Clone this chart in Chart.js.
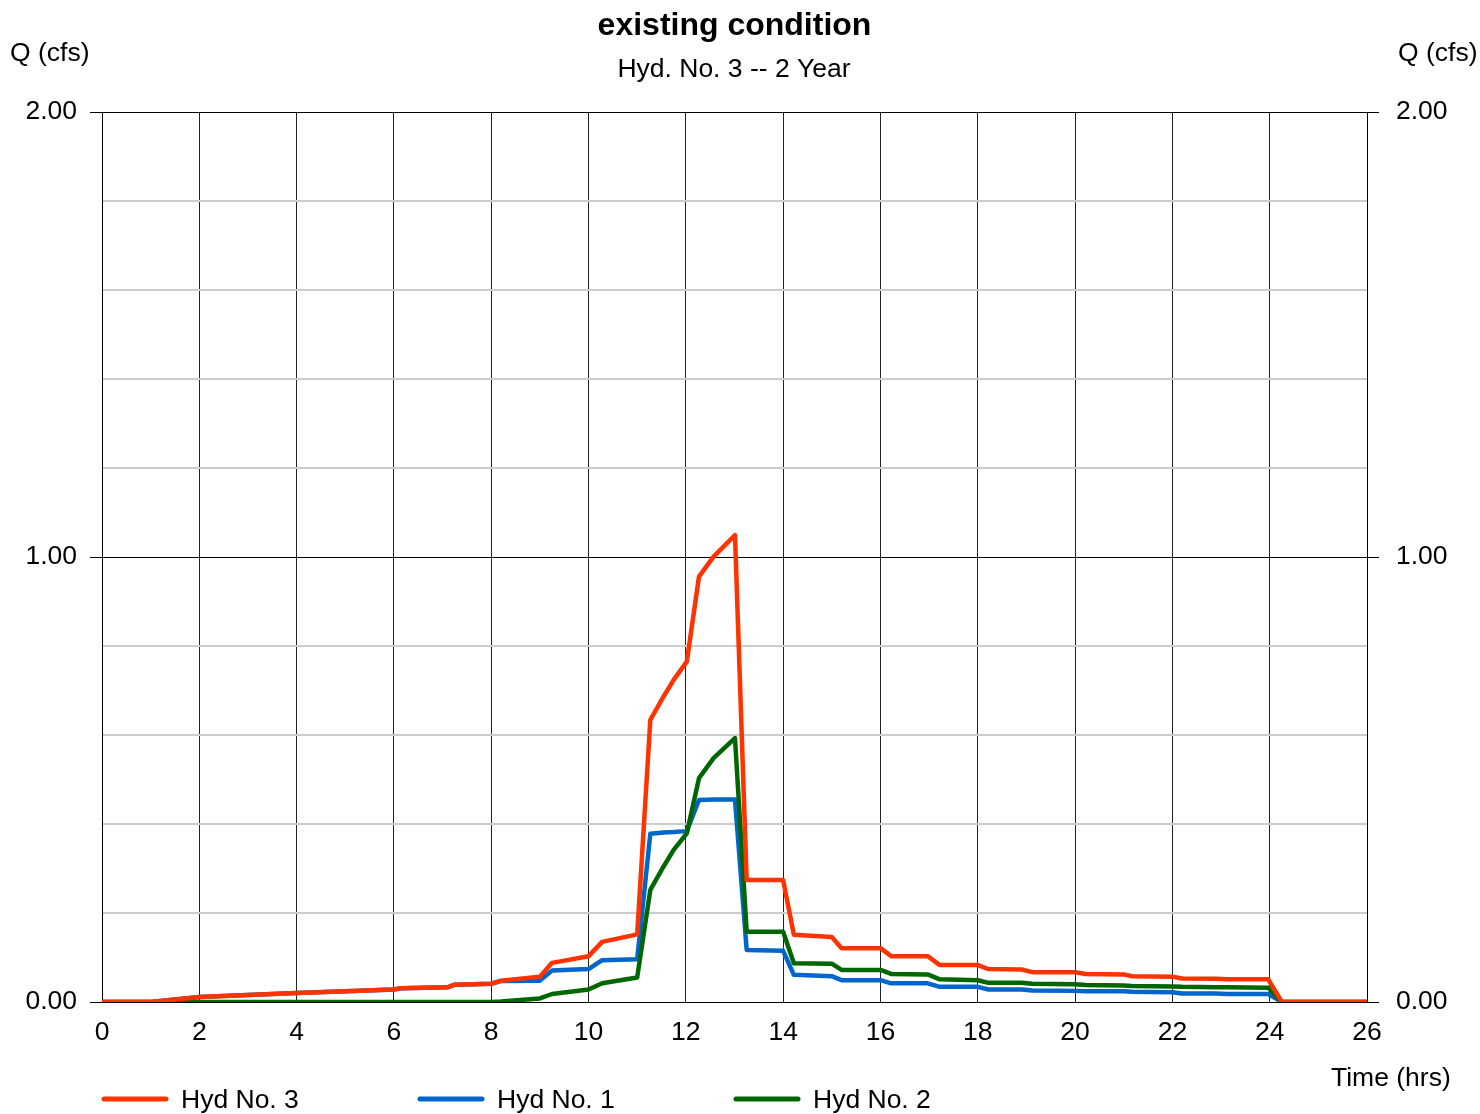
<!DOCTYPE html>
<html>
<head>
<meta charset="utf-8">
<script src="https://cdn.jsdelivr.net/npm/chart.js@4/dist/chart.umd.min.js"></script>
<style>
  html, body { margin: 0; padding: 0; background: #ffffff; }
  #wrap { width: 1480px; height: 1114px; }
</style>
</head>
<body>
<div id="wrap"><canvas id="c" width="1480" height="1114"></canvas></div>
<script>
// ---- data ----
const timeHrs = [0, 1.0, 2.0, 4.0, 6.0, 6.15, 7.1, 7.25, 8.0, 8.2, 9.0, 9.25, 10.0, 10.28, 11.0,
  11.27, 11.54, 11.75, 12.02, 12.27, 12.57, 13.01, 13.25, 14.0, 14.22, 15.0, 15.2, 16.0, 16.22,
  16.97, 17.22, 18.0, 18.22, 18.9, 19.12, 20.0, 20.22, 21.0, 21.17, 22.0, 22.2, 22.9, 23.13,
  23.97, 24.25, 26.0];
const hyd3 = [0, 0, 0.011, 0.020, 0.028, 0.031, 0.033, 0.039, 0.041, 0.048, 0.057, 0.088, 0.103, 0.135, 0.152,
  0.634, 0.686, 0.724, 0.765, 0.956, 1.001, 1.049, 0.274, 0.274, 0.151, 0.146, 0.121, 0.121, 0.103,
  0.103, 0.083, 0.083, 0.074, 0.073, 0.067, 0.067, 0.063, 0.062, 0.058, 0.057, 0.053, 0.052, 0.051,
  0.051, 0, 0];
const hyd1 = [0, 0, 0.011, 0.020, 0.028, 0.031, 0.033, 0.039, 0.041, 0.047, 0.048, 0.071, 0.074, 0.094, 0.096,
  0.378, 0.381, 0.382, 0.384, 0.454, 0.455, 0.455, 0.117, 0.115, 0.061, 0.058, 0.049, 0.049, 0.042,
  0.042, 0.034, 0.034, 0.028, 0.028, 0.026, 0.025, 0.024, 0.024, 0.023, 0.022, 0.019, 0.019, 0.018,
  0.018, 0, 0];
const hyd2 = [0, 0, 0, 0, 0, 0, 0, 0, 0, 0.001, 0.008, 0.018, 0.028, 0.042, 0.055,
  0.252, 0.304, 0.342, 0.379, 0.503, 0.548, 0.593, 0.158, 0.158, 0.087, 0.086, 0.072, 0.072, 0.063,
  0.062, 0.051, 0.049, 0.043, 0.043, 0.041, 0.040, 0.038, 0.037, 0.036, 0.035, 0.034, 0.033, 0.033,
  0.032, 0, 0];
const seriesNames = ['Hyd No. 3', 'Hyd No. 1', 'Hyd No. 2'];
const seriesColors = ['#ff3300', '#0066cc', '#006600'];
const yTickLabels = ['0.00', '1.00', '2.00'];
const xTickLabelsMax = 26;

const pts = arr => arr.map((v, i) => ({ x: timeHrs[i], y: v }));
const isMajor = v => Math.abs(v - Math.round(v)) < 1e-6;

const FONT = "'Liberation Sans', Arial, sans-serif";
Chart.defaults.font.family = FONT;
Chart.defaults.font.size = 26.5;
Chart.defaults.color = '#000';

const textPlugin = {
  id: 'texts',
  beforeDraw(chart) {
    const c = chart.ctx;
    c.save();
    c.fillStyle = '#ffffff';
    c.fillRect(0, 0, chart.width, chart.height);
    c.restore();
  },
  afterDraw(chart) {
    const c = chart.ctx;
    c.save();
    c.fillStyle = '#000';
    c.textBaseline = 'middle';
    c.textAlign = 'center';
    c.font = "bold 32px " + FONT;
    c.fillText('existing condition', 734.5, 26);
    c.font = "26.5px " + FONT;
    c.fillText('Hyd. No. 3 -- 2 Year', 734, 70);
    c.textAlign = 'left';
    c.fillText('Q (cfs)', 10, 54);
    c.fillText('Q (cfs)', 1398, 54);
    c.fillText('Time (hrs)', 1331, 1079);
    // legend
    const lx = [102, 418, 734];
    chart.data.datasets.forEach((ds, i) => {
      c.strokeStyle = ds.borderColor;
      c.lineWidth = 5;
      c.lineCap = 'round';
      c.beginPath();
      c.moveTo(lx[i] + 2, 1099);
      c.lineTo(lx[i] + 64, 1099);
      c.stroke();
      c.fillText(ds.label, lx[i] + 79, 1101);
    });
    c.restore();
  }
};

new Chart(document.getElementById('c'), {
  type: 'line',
  data: {
    datasets: [
      { label: seriesNames[0], data: pts(hyd3), borderColor: seriesColors[0], order: 0 },
      { label: seriesNames[1], data: pts(hyd1), borderColor: seriesColors[1], order: 2 },
      { label: seriesNames[2], data: pts(hyd2), borderColor: seriesColors[2], order: 1 }
    ].map(d => Object.assign(d, {
      borderWidth: 4.5, pointRadius: 0, tension: 0, fill: false,
      borderJoinStyle: 'round', borderCapStyle: 'round', yAxisID: 'y'
    }))
  },
  options: {
    responsive: false,
    devicePixelRatio: 1,
    animation: false,
    layout: { padding: { top: 112, left: 0, right: 0, bottom: 0 } },
    plugins: { legend: { display: false }, title: { display: false }, tooltip: { enabled: false } },
    scales: {
      x: {
        type: 'linear', min: 0, max: xTickLabelsMax,
        afterFit: s => { s.height = 112; },
        ticks: { stepSize: 2, autoSkip: false, maxRotation: 0, padding: 15, color: '#000' },
        grid: { color: '#222', lineWidth: 1, drawTicks: false },
        border: { display: true, color: '#000', width: 1 }
      },
      y: {
        position: 'left', min: 0, max: 2,
        afterFit: s => { s.width = 102; },
        ticks: {
          stepSize: 0.2, autoSkip: false, padding: 13, color: '#000',
          callback: v => isMajor(v) ? yTickLabels[Math.round(v)] : ''
        },
        grid: {
          color: ctx => isMajor(ctx.tick.value) ? '#000' : '#cccccc',
          lineWidth: ctx => isMajor(ctx.tick.value) ? 1 : 2,
          tickColor: ctx => isMajor(ctx.tick.value) ? '#000' : 'rgba(0,0,0,0)',
          tickWidth: 1,
          tickLength: 12
        },
        border: { display: true, color: '#000', width: 1 }
      },
      y2: {
        position: 'right', min: 0, max: 2,
        afterFit: s => { s.width = 113; },
        ticks: {
          stepSize: 0.2, autoSkip: false, padding: 17, color: '#000',
          callback: v => isMajor(v) ? yTickLabels[Math.round(v)] : ''
        },
        grid: {
          drawOnChartArea: false,
          tickColor: ctx => isMajor(ctx.tick.value) ? '#000' : 'rgba(0,0,0,0)',
          tickWidth: 1,
          tickLength: 12
        },
        border: { display: true, color: '#000', width: 1 }
      }
    }
  },
  plugins: [textPlugin]
});
</script>
</body>
</html>
